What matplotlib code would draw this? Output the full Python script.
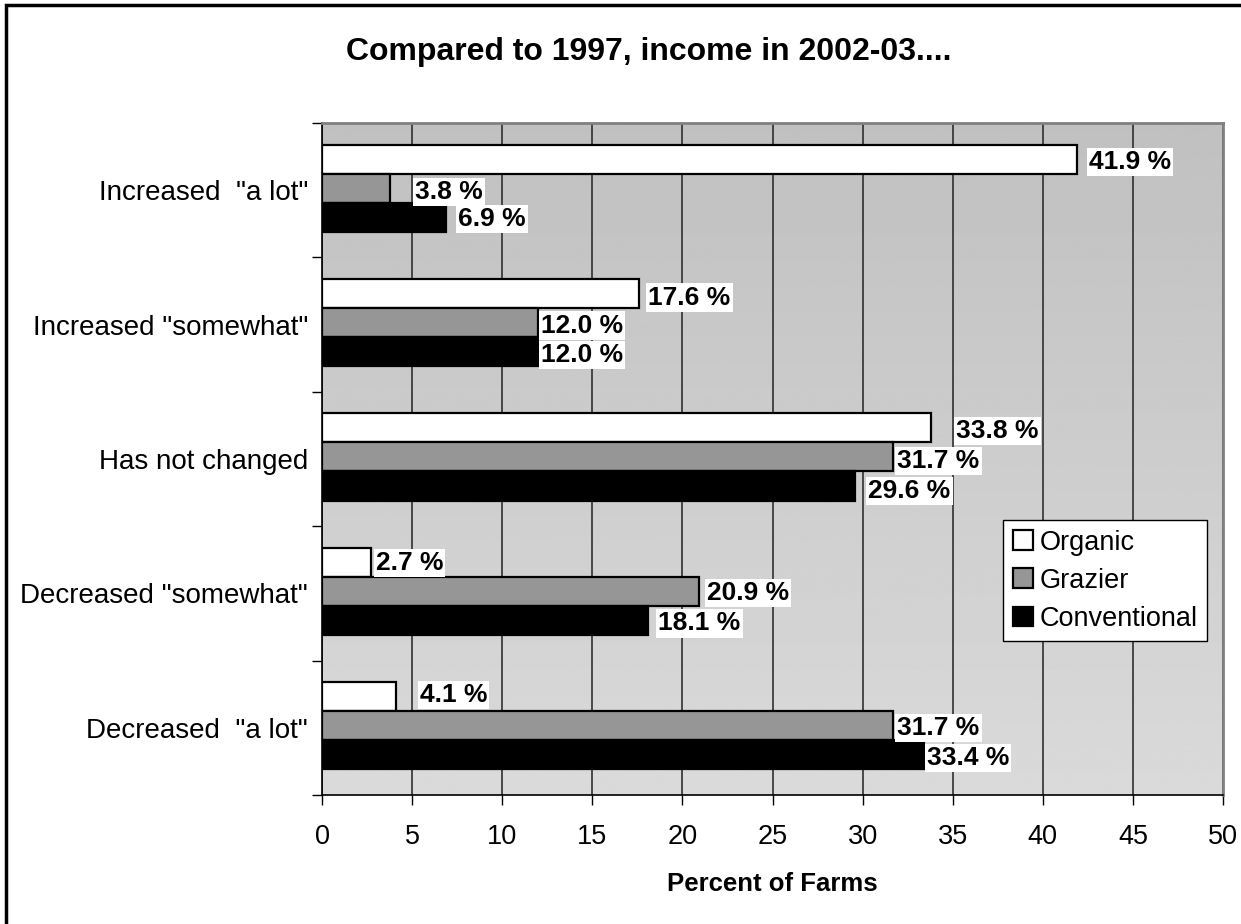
import numpy as np
import matplotlib.pyplot as plt
from matplotlib.patches import Rectangle

plt.rcParams['font.family'] = ['Liberation Sans', 'DejaVu Sans']

categories = ['Increased  "a lot"', 'Increased "somewhat"', 'Has not changed',
              'Decreased "somewhat"', 'Decreased  "a lot"']
series = ['Organic', 'Grazier', 'Conventional']
organic = [41.9, 17.6, 33.8, 2.7, 4.1]
grazier = [3.8, 12.0, 31.7, 20.9, 31.7]
conventional = [6.9, 12.0, 29.6, 18.1, 33.4]
colors = ['white', '#969696', 'black']

# label nudges in pixels (dx from bar end, dy up), per category then series
label_dx = [[12, 25, 12], [9, 3, 3], [25, 4, 13], [5, 8, 10], [24, 4, 3]]
label_dy = [[-3, -4, -2], [-4, -3, -3], [-3, -4, -5], [-1, -2, -3], [2, -2, -3]]

fig = plt.figure(figsize=(12.41, 9.24), dpi=100)
ax = fig.add_axes([322 / 1241, 1 - 795 / 924, 901 / 1241, 672 / 924])

# vertical grey gradient behind the bars
grad = np.linspace(192, 218, 256).reshape(-1, 1) / 255.0
ax.imshow(grad, cmap='gray', vmin=0, vmax=1, aspect='auto',
          extent=[0, 50, 4.5, -0.5], zorder=0)

y = np.arange(len(categories))
h = 0.216
offsets = [-0.231, -0.015, 0.201]
for vals, off, c, name, k in zip([organic, grazier, conventional], offsets,
                                 colors, series, range(3)):
    ax.barh(y + off, vals, height=h, color=c, edgecolor='black',
            linewidth=1.6, label=name, zorder=3)
    for i, v in enumerate(vals):
        ax.annotate(f'{v:.1f} %', xy=(v, y[i] + off),
                    xytext=(label_dx[i][k], label_dy[i][k]),
                    textcoords='offset pixels', ha='left', va='center',
                    fontsize=19, fontweight='bold', zorder=5,
                    bbox=dict(boxstyle='square,pad=0.08', fc='white', ec='none'))

ax.set_xlim(0, 50)
ax.set_ylim(4.5, -0.5)
ax.set_xticks(np.arange(0, 51, 5))
ax.tick_params(axis='x', labelsize=19.5, length=7, width=1, pad=14, direction='out')
ax.grid(axis='x', color='#222222', linewidth=1.1, zorder=1)

ax.set_yticks(np.arange(-0.5, 5, 1))
ax.set_yticklabels([])
ax.set_yticks(y, minor=True)
ax.set_yticklabels(categories, minor=True, fontsize=20)
ax.tick_params(axis='y', which='major', length=7, width=1, direction='out')
ax.tick_params(axis='y', which='minor', length=0, pad=10)

for s in ['left', 'bottom']:
    ax.spines[s].set_color('black')
    ax.spines[s].set_linewidth(1.2)
for s in ['top', 'right']:
    ax.spines[s].set_color('#808080')
    ax.spines[s].set_linewidth(2)

ax.set_xlabel('Percent of Farms', fontsize=18.5, fontweight='bold', labelpad=16)

leg = ax.legend(loc='upper left', bbox_to_anchor=(0.756, 0.409), fontsize=19.5,
                frameon=True, fancybox=False, framealpha=1, edgecolor='black',
                handlelength=0.75, handleheight=0.75, handletextpad=0.25,
                labelspacing=0.45, borderpad=0.35, borderaxespad=0)
leg.get_frame().set_linewidth(1)
leg.set_zorder(6)

fig.text(649 / 1241, 1 - 52 / 924, 'Compared to 1997, income in 2002-03....',
         ha='center', va='center', fontsize=23, fontweight='bold')

# outer chart border (right and bottom edges run off the canvas)
fig.add_artist(Rectangle((6 / 1241, -0.05), 1.1, 1.05 - 5 / 924,
                         transform=fig.transFigure, fill=False,
                         edgecolor='black', linewidth=2.5))

plt.savefig('out.png', dpi=100)
